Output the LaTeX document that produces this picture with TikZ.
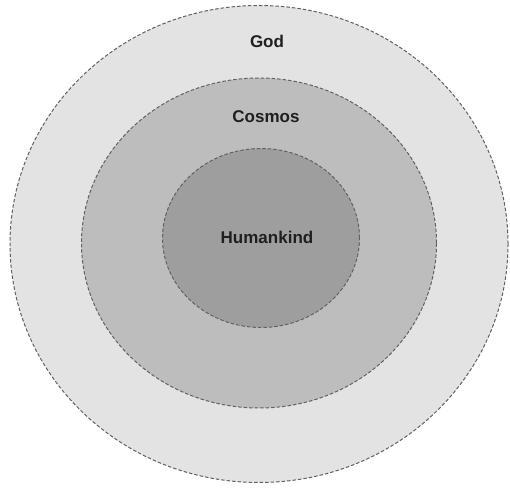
\documentclass[tikz,border=0pt]{standalone}
\usepackage{fontspec}
\setmainfont{Liberation Sans}
\usepackage{tikz}
\usetikzlibrary{shapes.geometric,positioning}

\begin{document}
\begin{tikzpicture}[
    x=1pt, y=1pt,
    font=\fontsize{17}{20}\selectfont\bfseries,
    ring/.style={ellipse, draw=black!62, line width=1pt, dash pattern=on 3.5pt off 2pt, inner sep=0pt},
    lbl/.style={text=black!88, inner sep=0pt},
]
    \useasboundingbox (0,0) rectangle (510,487);
    \node[ring, fill=black!11, minimum width=498pt, minimum height=477pt] (god) at (259,243) {};
    \node[ring, fill=black!26, minimum width=355pt, minimum height=330pt] (cosmos) at (259,244) {};
    \node[ring, fill=black!38, minimum width=197pt, minimum height=179pt] (human) at (261,249) {};
    \node[lbl] (godlbl) at ([xshift=8pt, yshift=-36pt]god.north) {God};
    \node[lbl] (cosmoslbl) at ([xshift=7pt, yshift=-39pt]cosmos.north) {Cosmos};
    \node[lbl] (humanlbl) at (267,250) {Humankind};
\end{tikzpicture}
\end{document}
